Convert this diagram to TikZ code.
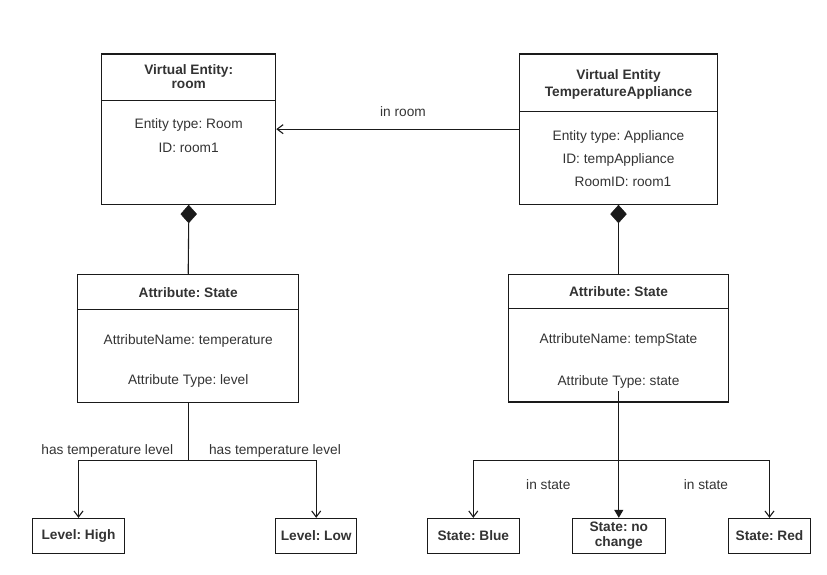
\documentclass[tikz,border=0pt]{standalone}
\usepackage{fontspec}
\setmainfont{Liberation Sans}
\usetikzlibrary{arrows.meta,shapes.geometric}
\definecolor{txt}{HTML}{333333}
\definecolor{ln}{HTML}{1A1A1A}
\frenchspacing
\tikzset{
  box/.style={draw=ln, line width=1.1pt, rectangle, inner sep=0pt},
  leaf/.style={box, minimum height=35pt, font=\fontsize{13.7}{14.5}\selectfont\bfseries, text=txt, align=center},
  lbl/.style={text=txt, font=\fontsize{13.7}{15}\selectfont, anchor=base, inner sep=0pt},
  hdr/.style={lbl, font=\fontsize{13.7}{15}\selectfont\bfseries},
  conn/.style={draw=ln, line width=1.1pt},
  openarrow/.style={conn, -{Straight Barb[length=6pt,width=9pt,line width=1.1pt]}},
  filledarrow/.style={conn, -{Triangle[length=8pt,width=9pt]}},
  comp/.style={diamond, fill=ln, draw=ln, inner sep=0pt, minimum width=16pt, minimum height=18pt, anchor=north},
}
\begin{document}
\begin{tikzpicture}[x=1pt,y=-1pt]
\useasboundingbox (0,0) rectangle (827,575);

% Virtual Entity: room
\node[box, minimum width=174pt, minimum height=150.3pt] (ve1) at (188.7,129.15) {};
\draw[conn] (ve1.west |- 0,100.7) -- (ve1.east |- 0,100.7);
\node[hdr] (ve1h1) at (188.7,75) {Virtual Entity:};
\node[hdr] (ve1h2) at (188.7,89) {room};
\node[lbl] (ve1b1) at (188.7,129) {Entity type: Room};
\node[lbl] (ve1b2) at (188.7,153) {ID: room1};

% Virtual Entity TemperatureAppliance
\node[box, minimum width=197.6pt, minimum height=150.3pt] (ve2) at (618.5,129.15) {};
\draw[conn] (ve2.west |- 0,111.7) -- (ve2.east |- 0,111.7);
\node[hdr] (ve2h1) at (618.5,80) {Virtual Entity};
\node[hdr] (ve2h2) at (618.5,96.7) {TemperatureAppliance};
\node[lbl] (ve2b1) at (618.5,141) {Entity type: Appliance};
\node[lbl] (ve2b2) at (618.5,163) {ID: tempAppliance};
\node[lbl] (ve2b3) at (623,186.7) {RoomID: room1};

% in room
\draw[openarrow] (ve2.west) -- (ve1.east);
\node[lbl] (inroom) at (403,117) {in room};

% Attribute boxes
\node[box, minimum width=221pt, minimum height=128pt] (at1) at (188.2,338.3) {};
\draw[conn] (at1.west |- 0,309.3) -- (at1.east |- 0,309.3);
\node[hdr] (at1h) at (188.2,297.3) {Attribute: State};
\node[lbl] (at1b1) at (188.2,344.3) {AttributeName: temperature};
\node[lbl] (at1b2) at (188.2,384.3) {Attribute Type: level};

\node[box, minimum width=220.4pt, minimum height=127.5pt] (at2) at (618.5,338.25) {};
\draw[conn] (at2.west |- 0,308.7) -- (at2.east |- 0,308.7);
\node[hdr] (at2h) at (618.5,296.7) {Attribute: State};
\node[lbl] (at2b1) at (618.5,343.3) {AttributeName: tempState};
\node[lbl] (at2b2) at (618.5,385) {Attribute Type: state};

% composition diamonds
\node[comp] (d1) at (ve1.south) {};
\node[comp] (d2) at (ve2.south) {};
\draw[conn] (d1.south) -- (at1.north);
\draw[conn] (d2.south) -- (at2.north);

% leaves
\node[leaf, minimum width=92.6pt] (high) at (78.5,535.9) {Level: High};
\node[leaf, minimum width=81pt] (low) at (316.2,535.9) {Level: Low};
\node[leaf, minimum width=92pt] (blue) at (473.3,535.9) {State: Blue};
\node[leaf, minimum width=93pt] (nochg) at (618.8,535.9) {State: no\\change};
\node[leaf, minimum width=82.4pt] (red) at (769.5,535.9) {State: Red};

% left tree
\coordinate (j1) at (188.2,460.3);
\draw[conn] (at1.south) -- (j1);
\draw[openarrow] (j1) -| (high.north);
\draw[openarrow] (j1) -| (low.north);
\node[lbl] (has1) at (107.3,454.3) {has temperature level};
\node[lbl] (has2) at (275,454.3) {has temperature level};

% right tree
\coordinate (s2) at (618.8,391);
\coordinate (j2) at (618.8,460.3);
\draw[filledarrow] (s2) -- (nochg.north);
\draw[openarrow] (j2) -| (blue.north);
\draw[openarrow] (j2) -| (red.north);
\node[lbl] (st1) at (548.3,489.3) {in state};
\node[lbl] (st2) at (706,489.3) {in state};
\end{tikzpicture}
\end{document}
